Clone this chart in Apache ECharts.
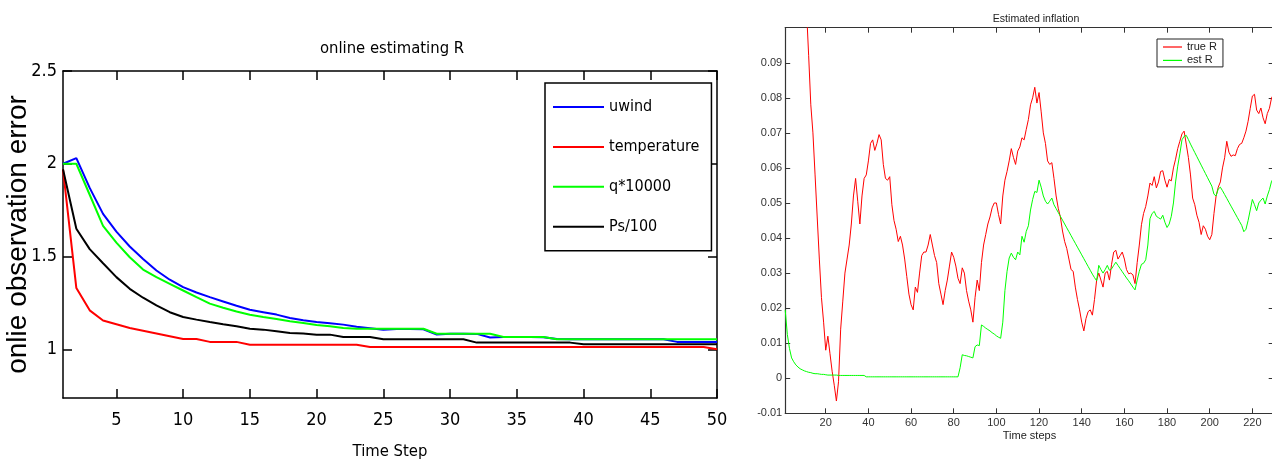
<!DOCTYPE html>
<html><head><meta charset="utf-8">
<script src="https://cdn.jsdelivr.net/npm/echarts@6/dist/echarts.min.js"></script>
<style>html,body{margin:0;padding:0;background:#fff}#c{width:1272px;height:463px}</style>
</head><body><div id="c"></div>
<script>
// ---------- Left panel: online estimating R ----------
const leftTitle = 'online estimating R';
const leftXTicks = [5, 10, 15, 20, 25, 30, 35, 40, 45, 50];
const leftYTicks = [1, 1.5, 2, 2.5];
const uwind = [2.00, 2.03, 1.87, 1.73, 1.634, 1.554, 1.487, 1.425, 1.375, 1.335,
  1.306, 1.281, 1.258, 1.235, 1.213, 1.200, 1.187, 1.169, 1.156, 1.147,
  1.140, 1.133, 1.122, 1.114, 1.106, 1.110, 1.110, 1.108, 1.080, 1.084,
  1.084, 1.083, 1.064, 1.066, 1.066, 1.066, 1.065, 1.055, 1.054, 1.054,
  1.054, 1.054, 1.054, 1.054, 1.054, 1.054, 1.040, 1.040, 1.040, 1.040];
const temperature = [1.97, 1.33, 1.21, 1.155, 1.135, 1.115, 1.100, 1.085, 1.070, 1.055,
  1.055, 1.040, 1.040, 1.040, 1.025, 1.025, 1.025, 1.025, 1.025, 1.025,
  1.025, 1.025, 1.025, 1.012, 1.012, 1.012, 1.012, 1.012, 1.012, 1.012,
  1.012, 1.012, 1.012, 1.012, 1.012, 1.012, 1.012, 1.012, 1.012, 1.012,
  1.012, 1.012, 1.012, 1.012, 1.012, 1.012, 1.012, 1.012, 1.012, 1.000];
const q10000 = [2.00, 2.00, 1.833, 1.665, 1.575, 1.496, 1.430, 1.389, 1.353, 1.317,
  1.281, 1.246, 1.224, 1.204, 1.186, 1.174, 1.163, 1.151, 1.142, 1.131,
  1.124, 1.115, 1.111, 1.111, 1.111, 1.111, 1.111, 1.111, 1.084, 1.084,
  1.084, 1.084, 1.084, 1.066, 1.066, 1.066, 1.066, 1.054, 1.054, 1.054,
  1.054, 1.054, 1.054, 1.054, 1.054, 1.054, 1.054, 1.054, 1.054, 1.054];
const ps100 = [1.97, 1.65, 1.54, 1.464, 1.389, 1.326, 1.278, 1.237, 1.200, 1.174,
  1.160, 1.147, 1.135, 1.124, 1.111, 1.106, 1.097, 1.088, 1.085, 1.079,
  1.079, 1.066, 1.066, 1.066, 1.054, 1.054, 1.054, 1.054, 1.054, 1.054,
  1.054, 1.036, 1.036, 1.036, 1.036, 1.036, 1.036, 1.036, 1.036, 1.027,
  1.027, 1.027, 1.027, 1.027, 1.027, 1.027, 1.027, 1.027, 1.027, 1.027];

// ---------- Right panel: Estimated inflation ----------
const rightTitle = 'Estimated inflation';
const rightXTicks = [20, 40, 60, 80, 100, 120, 140, 160, 180, 200, 220];
const rightYTicks = [-0.01, 0, 0.01, 0.02, 0.03, 0.04, 0.05, 0.06, 0.07, 0.08, 0.09];
const trueR = [0.20, 0.19, 0.18, 0.17, 0.16, 0.15, 0.14, 0.13, 0.122, 0.114,
  0.105, 0.092, 0.078, 0.070, 0.058, 0.046, 0.034, 0.023, 0.016, 0.008,
  0.012, 0.007, 0.002, -0.002, -0.0065, -0.001, 0.014, 0.022, 0.030, 0.034,
  0.038, 0.044, 0.052, 0.057, 0.0505, 0.044, 0.052, 0.057, 0.058, 0.062,
  0.067, 0.068, 0.065, 0.067, 0.0695, 0.068, 0.061, 0.057, 0.0565, 0.0575,
  0.0495, 0.045, 0.0425, 0.039, 0.0405, 0.038, 0.034, 0.029, 0.024, 0.021,
  0.0195, 0.026, 0.0245, 0.030, 0.035, 0.036, 0.036, 0.038, 0.041, 0.038,
  0.035, 0.033, 0.027, 0.024, 0.021, 0.025, 0.028, 0.032, 0.036, 0.0345,
  0.032, 0.0285, 0.027, 0.0315, 0.030, 0.025, 0.022, 0.0195, 0.016, 0.023,
  0.028, 0.025, 0.033, 0.038, 0.041, 0.044, 0.046, 0.0486, 0.050, 0.050,
  0.0467, 0.044, 0.052, 0.0565, 0.059, 0.062, 0.0655, 0.063, 0.061, 0.0648,
  0.066, 0.0686, 0.068, 0.071, 0.0738, 0.078, 0.080, 0.083, 0.0785, 0.0815,
  0.076, 0.070, 0.067, 0.062, 0.061, 0.0615, 0.057, 0.052, 0.0485, 0.046,
  0.042, 0.039, 0.037, 0.034, 0.031, 0.0305, 0.026, 0.0225, 0.0195, 0.016,
  0.0135, 0.017, 0.019, 0.0195, 0.018, 0.0225, 0.028, 0.030, 0.028, 0.026,
  0.030, 0.0305, 0.028, 0.0325, 0.036, 0.0365, 0.034, 0.035, 0.036, 0.034,
  0.031, 0.0298, 0.030, 0.0295, 0.027, 0.033, 0.038, 0.0438, 0.047, 0.049,
  0.052, 0.0557, 0.055, 0.0575, 0.0543, 0.056, 0.059, 0.0592, 0.0565, 0.0545,
  0.0567, 0.0563, 0.060, 0.0625, 0.0655, 0.0676, 0.0697, 0.0705, 0.0668, 0.063,
  0.058, 0.0514, 0.0495, 0.0465, 0.0445, 0.041, 0.0435, 0.0425, 0.0405, 0.0395,
  0.041, 0.047, 0.052, 0.0545, 0.056, 0.060, 0.0629, 0.0676, 0.0645, 0.0633,
  0.0637, 0.0635, 0.0655, 0.0667, 0.067, 0.0686, 0.0705, 0.0733, 0.077, 0.0805,
  0.081, 0.0765, 0.0755, 0.0771, 0.0743, 0.0726, 0.0755, 0.077, 0.080, 0.081];
const estR = [0.0195, 0.0125, 0.0085, 0.0058, 0.0047, 0.0038, 0.0032, 0.0027, 0.0024, 0.0021,
  0.0019, 0.0017, 0.0016, 0.0014, 0.0013, 0.0013, 0.0012, 0.0011, 0.0011, 0.0010,
  0.0009, 0.0009, 0.0009, 0.0009, 0.0009, 0.0008, 0.0008, 0.0008, 0.0008, 0.0008,
  0.0008, 0.0008, 0.0008, 0.0008, 0.0008, 0.0008, 0.0008, 0.0008, 0.0004, 0.0004,
  0.0004, 0.0004, 0.0004, 0.0004, 0.0004, 0.0004, 0.0004, 0.0004, 0.0004, 0.0004,
  0.0004, 0.0004, 0.0004, 0.0004, 0.0004, 0.0004, 0.0004, 0.0004, 0.0004, 0.0004,
  0.0004, 0.0004, 0.0004, 0.0004, 0.0004, 0.0004, 0.0004, 0.0004, 0.0004, 0.0004,
  0.0004, 0.0004, 0.0004, 0.0004, 0.0004, 0.0004, 0.0004, 0.0004, 0.0004, 0.0004,
  0.0004, 0.0004, 0.0030, 0.0067, 0.0065, 0.0064, 0.0062, 0.0060, 0.0058, 0.0090,
  0.0095, 0.0093, 0.0152, 0.0148, 0.0143, 0.0139, 0.0135, 0.0130, 0.0126, 0.0121,
  0.0117, 0.0114, 0.016, 0.025, 0.0305, 0.0343, 0.0357, 0.0345, 0.0338, 0.036,
  0.0352, 0.0405, 0.0388, 0.0419, 0.0435, 0.048, 0.051, 0.0533, 0.053, 0.0565,
  0.0545, 0.052, 0.0505, 0.0497, 0.0505, 0.0514, 0.0495, 0.0484, 0.0473, 0.0462,
  0.0451, 0.044, 0.0429, 0.0418, 0.0407, 0.0396, 0.0385, 0.0374, 0.0363, 0.0352,
  0.0341, 0.033, 0.0319, 0.0308, 0.0297, 0.0287, 0.0278, 0.0322, 0.031, 0.030,
  0.031, 0.0322, 0.0308, 0.0312, 0.0322, 0.0331, 0.0322, 0.0313, 0.0304, 0.0295,
  0.0286, 0.0278, 0.0269, 0.026, 0.0252, 0.028, 0.0305, 0.0325, 0.0328, 0.0338,
  0.038, 0.0455, 0.047, 0.0476, 0.0462, 0.0458, 0.0454, 0.0465, 0.0445, 0.043,
  0.044, 0.0462, 0.050, 0.056, 0.0605, 0.064, 0.068, 0.069, 0.0693, 0.0681,
  0.0668, 0.0656, 0.0644, 0.0632, 0.062, 0.0608, 0.0596, 0.0584, 0.0572, 0.056,
  0.0548, 0.0525, 0.052, 0.054, 0.0545, 0.0535, 0.0524, 0.0513, 0.0502, 0.0491,
  0.048, 0.0469, 0.0458, 0.0447, 0.0436, 0.0418, 0.0425, 0.045, 0.048, 0.051,
  0.0495, 0.0478, 0.050, 0.0508, 0.0514, 0.0497, 0.052, 0.0538, 0.0562, 0.057];

const pairs = arr => arr.map((v, i) => [i + 1, v]);

const NF = "'DejaVu Sans Condensed','Liberation Sans',sans-serif";
const AF = "'Liberation Sans',Arial,sans-serif";
const BK = '#000';
const GR = '#333';

function ax(extra) { return Object.assign({ type: 'value', splitLine: { show: false }, nameMoveOverlap: false }, extra); }

const chart = echarts.init(document.getElementById('c'), null, { renderer: 'canvas' });
chart.setOption({
  animation: false,
  backgroundColor: '#fff',
  title: [
    { text: leftTitle, left: 387, top: 35, textAlign: 'center',
      textStyle: { fontFamily: NF, fontSize: 16.5, fontWeight: 'normal', color: BK } },
    { text: rightTitle, left: 1031, top: 9, textAlign: 'center',
      textStyle: { fontFamily: AF, fontSize: 10.6, fontWeight: 'normal', color: '#222' } }
  ],
  legend: [
    { data: ['uwind', 'temperature', 'q*10000', 'Ps/100'], orient: 'vertical',
      left: 545, top: 83, padding: [12, 12, 12, 8], itemWidth: 51, itemHeight: 2, itemGap: 15.9,
      icon: 'rect',
      textStyle: { fontFamily: NF, fontSize: 16, lineHeight: 24, color: BK },
      borderColor: BK, borderWidth: 1.5, backgroundColor: '#fff' },
    { data: ['true R', 'est R'], orient: 'vertical',
      left: 1157, top: 39, padding: [1.5, 6, 0, 6], itemWidth: 19, itemHeight: 1.2, itemGap: 0.4,
      icon: 'rect',
      textStyle: { fontFamily: AF, fontSize: 11, lineHeight: 13, color: '#222' },
      borderColor: '#222', borderWidth: 1, backgroundColor: '#fff' }
  ],
  grid: [
    { left: 63, top: 71, width: 654, height: 327, outerBoundsMode: 'none', containLabel: false },
    { left: 785.2, top: 27.7, width: 488.5, height: 385.6, outerBoundsMode: 'none', containLabel: false }
  ],
  xAxis: [
    ax({ gridIndex: 0, min: 1, max: 50, position: 'bottom',
      axisLine: { onZero: false, lineStyle: { color: BK, width: 1.5 } },
      axisTick: { inside: true, length: 9, customValues: leftXTicks, lineStyle: { color: BK, width: 1.5 } },
      axisLabel: { customValues: leftXTicks, color: BK, fontFamily: NF, fontSize: 18, margin: 13 },
      name: 'Time Step', nameLocation: 'middle', nameGap: 45,
      nameTextStyle: { fontFamily: NF, fontSize: 16.5, color: BK } }),
    ax({ gridIndex: 0, min: 1, max: 50, position: 'top',
      axisLine: { onZero: false, lineStyle: { color: BK, width: 1.5 } },
      axisTick: { inside: true, length: 9, customValues: leftXTicks, lineStyle: { color: BK, width: 1.5 } },
      axisLabel: { show: false } }),
    ax({ gridIndex: 1, min: 1, max: 230, position: 'bottom',
      axisLine: { onZero: false, lineStyle: { color: GR, width: 1.2 } },
      axisTick: { inside: true, length: 5, customValues: rightXTicks, lineStyle: { color: GR } },
      axisLabel: { customValues: rightXTicks, color: GR, fontFamily: AF, fontSize: 11, margin: 4 },
      name: 'Time steps', nameLocation: 'middle', nameGap: 17,
      nameTextStyle: { fontFamily: AF, fontSize: 11, color: '#222' } }),
    ax({ gridIndex: 1, min: 1, max: 230, position: 'top',
      axisLine: { onZero: false, lineStyle: { color: GR, width: 1.2 } },
      axisTick: { inside: true, length: 5, customValues: rightXTicks, lineStyle: { color: GR } },
      axisLabel: { show: false } })
  ],
  yAxis: [
    ax({ gridIndex: 0, min: 0.7375, max: 2.5, position: 'left',
      axisLine: { onZero: false, lineStyle: { color: BK, width: 1.5 } },
      axisTick: { inside: true, length: 9, customValues: leftYTicks, lineStyle: { color: BK, width: 1.5 } },
      axisLabel: { customValues: leftYTicks, color: BK, fontFamily: NF, fontSize: 18, margin: 6 },
      name: 'onlie observation error', nameLocation: 'middle', nameGap: 31, nameRotate: 90,
      nameTextStyle: { fontFamily: AF, fontSize: 28, color: BK } }),
    ax({ gridIndex: 0, min: 0.7375, max: 2.5, position: 'right',
      axisLine: { onZero: false, lineStyle: { color: BK, width: 1.5 } },
      axisTick: { inside: true, length: 9, customValues: leftYTicks, lineStyle: { color: BK, width: 1.5 } },
      axisLabel: { show: false } }),
    ax({ gridIndex: 1, min: -0.01, max: 0.1, position: 'left',
      axisLine: { onZero: false, lineStyle: { color: GR, width: 1.2 } },
      axisTick: { inside: true, length: 5, customValues: rightYTicks, lineStyle: { color: GR } },
      axisLabel: { customValues: rightYTicks, color: GR, fontFamily: AF, fontSize: 11, margin: 3,
        formatter: v => (v === 0 ? '0' : v.toFixed(2)) } }),
    ax({ gridIndex: 1, min: -0.01, max: 0.1, position: 'right',
      axisLine: { onZero: false, lineStyle: { color: GR, width: 1.2 } },
      axisTick: { inside: true, length: 5, customValues: rightYTicks, lineStyle: { color: GR } },
      axisLabel: { show: false } })
  ],
  series: [
    { name: 'uwind', type: 'line', xAxisIndex: 0, yAxisIndex: 0, data: pairs(uwind),
      symbol: 'none', color: '#0000ff', lineStyle: { width: 2, color: '#0000ff' } },
    { name: 'temperature', type: 'line', xAxisIndex: 0, yAxisIndex: 0, data: pairs(temperature),
      symbol: 'none', color: '#ff0000', lineStyle: { width: 2, color: '#ff0000' } },
    { name: 'q*10000', type: 'line', xAxisIndex: 0, yAxisIndex: 0, data: pairs(q10000),
      symbol: 'none', color: '#00ff00', lineStyle: { width: 2, color: '#00ff00' } },
    { name: 'Ps/100', type: 'line', xAxisIndex: 0, yAxisIndex: 0, data: pairs(ps100),
      symbol: 'none', color: '#000000', lineStyle: { width: 2, color: '#000000' } },
    { name: 'true R', type: 'line', xAxisIndex: 2, yAxisIndex: 2, data: pairs(trueR), clip: true,
      symbol: 'none', color: '#ff0000', lineStyle: { width: 1, color: '#ff0000' } },
    { name: 'est R', type: 'line', xAxisIndex: 2, yAxisIndex: 2, data: pairs(estR), clip: true,
      symbol: 'none', color: '#00ff00', lineStyle: { width: 1, color: '#00ff00' } }
  ]
});
</script>
</body></html>
